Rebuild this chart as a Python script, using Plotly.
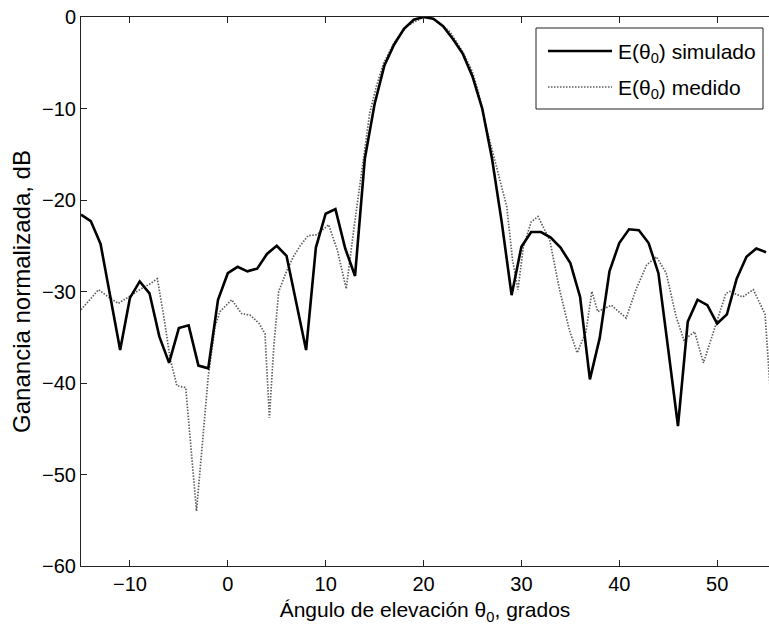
import plotly.graph_objects as go

# ---------------- data ----------------
theta_sim = list(range(-15, 56))
e_sim = [-21.6, -22.3, -24.8, -30.5, -36.4, -30.7, -28.9, -30.2, -34.9, -37.8,
         -34.0, -33.7, -38.1, -38.4, -30.9, -28.0, -27.3, -27.8, -27.5, -25.9,
         -25.0, -26.1, -31.2, -36.4, -25.2, -21.5, -21.0, -25.3, -28.3, -15.5,
         -9.5, -5.3, -3.0, -1.3, -0.3, 0.0, -0.2, -1.0, -2.4, -4.0,
         -6.5, -10.0, -15.5, -22.5, -30.4, -25.1, -23.5, -23.5, -24.1, -25.2,
         -26.9, -30.6, -39.6, -35.1, -27.8, -24.7, -23.2, -23.3, -24.7, -28.0,
         -36.3, -44.7, -33.3, -30.9, -31.5, -33.5, -32.5, -28.6, -26.2, -25.3,
         -25.7]

theta_med = [-15.0, -14.0, -13.2, -12.2, -11.2, -10.0, -9.0, -8.0, -7.2, -6.5,
             -5.9, -5.2, -4.3, -3.2, -2.0, -1.3, -0.8, 0.4, 1.4, 2.3,
             3.2, 3.8, 4.25, 4.7, 5.2, 6.0, 6.7, 7.4, 8.2, 9.1,
             10.3, 11.2, 12.1, 12.9, 13.6, 14.5, 15.2, 15.9, 17.0, 18.3,
             20.0, 21.0, 22.7, 24.0, 25.0, 25.6, 26.4, 27.4, 28.5, 29.1,
             29.65, 30.2, 31.0, 31.7, 32.9, 33.9, 34.9, 35.7, 36.6, 37.2,
             37.8, 39.2, 40.7, 41.7, 42.8, 43.8, 44.8, 45.8, 46.6, 47.7,
             48.6, 49.9, 50.9, 51.3, 52.6, 53.7, 54.9, 55.5]
e_med = [-32.0, -30.8, -29.8, -30.6, -31.3, -30.5, -29.8, -29.2, -28.6, -33.0,
         -37.3, -40.3, -40.5, -54.0, -39.3, -33.8, -32.2, -30.9, -32.4, -32.6,
         -33.5, -34.6, -43.8, -36.0, -30.0, -27.8, -26.2, -25.0, -23.9, -23.8,
         -22.7, -25.5, -29.7, -23.0, -17.5, -10.5, -7.5, -5.1, -2.8, -1.0,
         0.0, -0.2, -1.6, -3.8, -6.0, -8.2, -12.0, -16.0, -20.7, -26.6,
         -29.8, -25.1, -22.4, -21.8, -24.4, -29.8, -34.2, -36.7, -34.4, -30.0,
         -32.2, -31.5, -32.9, -29.8, -27.1, -26.2, -28.0, -32.7, -35.3, -34.4,
         -37.8, -33.5, -30.2, -30.0, -30.6, -29.8, -32.5, -42.0]

x_ticks = [-10, 0, 10, 20, 30, 40, 50]
y_ticks = [-60, -50, -40, -30, -20, -10, 0]

name_sim = "E(θ<sub>0</sub>) simulado"
name_med = "E(θ<sub>0</sub>) medido"

# ---------------- figure ----------------
W, H = 769, 632
ML, MR, MT, MB = 81, 0, 17, 66
PW, PH = W - ML - MR, H - MT - MB

def px(xpix):
    return (xpix - ML) / PW

def py(ypix):
    return (H - MB - ypix) / PH

FONT = "Liberation Sans, Arial, Helvetica, sans-serif"

fig = go.Figure()
fig.add_trace(go.Scatter(x=theta_med, y=e_med, mode="lines", name=name_med,
                         line=dict(color="#606060", width=1.7, dash="1.5px,1.5px"),
                         showlegend=False))
fig.add_trace(go.Scatter(x=theta_sim, y=e_sim, mode="lines", name=name_sim,
                         line=dict(color="black", width=2.6),
                         showlegend=False))

# legend box drawn in pixel positions
shapes = [
    dict(type="rect", xref="paper", yref="paper", x0=px(536), x1=px(763),
         y0=py(109), y1=py(28), line=dict(color="#222", width=1),
         fillcolor="white", layer="above"),
    dict(type="line", xref="paper", yref="paper", x0=px(548), x1=px(612),
         y0=py(51), y1=py(51), line=dict(color="black", width=2.6), layer="above"),
    dict(type="line", xref="paper", yref="paper", x0=px(548), x1=px(612),
         y0=py(87), y1=py(87), line=dict(color="#606060", width=1.7, dash="1.5px,1.5px"),
         layer="above"),
]
annotations = [
    dict(xref="paper", yref="paper", x=px(616), y=py(53), text=name_sim,
         showarrow=False, xanchor="left", yanchor="middle",
         font=dict(family=FONT, size=21, color="black")),
    dict(xref="paper", yref="paper", x=px(616), y=py(89), text=name_med,
         showarrow=False, xanchor="left", yanchor="middle",
         font=dict(family=FONT, size=21, color="black")),
]

fig.update_layout(
    width=W, height=H,
    margin=dict(l=ML, r=MR, t=MT, b=MB, pad=0, autoexpand=False),
    paper_bgcolor="white", plot_bgcolor="white",
    font=dict(family=FONT, size=20, color="black"),
    shapes=shapes, annotations=annotations,
    showlegend=False,
)
fig.update_xaxes(
    range=[-15, 55.3], tickvals=x_ticks, showgrid=False, zeroline=False,
    showline=True, linecolor="#222", linewidth=1, mirror="ticks",
    ticks="inside", ticklen=6, tickcolor="#222", automargin=False,
    tickfont=dict(size=20),
    title=dict(text="Ángulo de elevación θ<sub>0</sub>, grados",
               font=dict(size=21), standoff=8),
)
fig.update_yaxes(
    range=[-60, 0], tickvals=y_ticks, showgrid=False, zeroline=False,
    showline=True, linecolor="#222", linewidth=1, mirror=False,
    ticks="inside", ticklen=6, tickcolor="#222", automargin=False,
    tickfont=dict(size=20),
    title=dict(text="Ganancia normalizada, dB", font=dict(size=24), standoff=4),
)

fig.write_html("out.html",
               config={"displayModeBar": False},
               post_script="document.body.style.margin='0px';document.body.style.overflow='hidden';")
